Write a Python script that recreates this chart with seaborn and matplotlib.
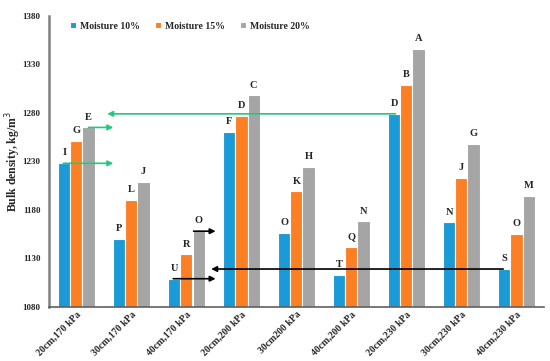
import pandas as pd
import numpy as np
import matplotlib
matplotlib.use("Agg")
import matplotlib.pyplot as plt
import seaborn as sns

# Treatments and values
treatments = ["20cm,170 kPa", "30cm,170 kPa", "40cm,170 kPa",
              "20cm,200 kPa", "30cm200 kPa", "40cm,200 kPa",
              "20cm,230 kPa", "30cm,230 kPa", "40cm,230 kPa"]
moisture_10 = [1228, 1150, 1109, 1260, 1156, 1113, 1279, 1167, 1119]
moisture_15 = [1251, 1190, 1134, 1277, 1199, 1142, 1309, 1213, 1155]
moisture_20 = [1265, 1209, 1158, 1298, 1224, 1168, 1346, 1248, 1194]
letters_10 = ["I", "P", "U", "F", "O", "T", "D", "N", "S"]
letters_15 = ["G", "L", "R", "D", "K", "Q", "B", "J", "O"]
letters_20 = ["E", "J", "O", "C", "H", "N", "A", "G", "M"]
series = ["Moisture 10%", "Moisture 15%", "Moisture 20%"]

df = pd.DataFrame({
    "treatment": treatments * 3,
    "moisture": np.repeat(series, len(treatments)),
    "density": moisture_10 + moisture_15 + moisture_20,
    "letter": letters_10 + letters_15 + letters_20,
})

sns.set_style("white")
plt.rcParams['font.family'] = ['Liberation Serif', 'DejaVu Serif']

colors = ["#1a9ad7", "#fd7f24", "#a5a5a5"]
fig = plt.figure(figsize=(5.5, 3.61), dpi=100)
ax = fig.add_axes([0.089, 0.15, 0.9, 0.806])

sns.barplot(data=df, x="treatment", y="density", hue="moisture",
            palette=colors, saturation=1, width=0.66, edgecolor="white",
            linewidth=0.8, ax=ax, errorbar=None)

ax.set_ylim(1080, 1380)
ax.set_xlim(-0.5, 8.5)
ax.set_yticks(np.arange(1080, 1381, 50))
ax.set_xlabel("")
ax.set_ylabel("Bulk density, kg/m$^3$", fontsize=8.5, fontweight="bold")
ax.yaxis.set_label_coords(-0.053, 0.5)
ax.tick_params(axis="y", labelsize=6.5, length=0, pad=6)
ax.tick_params(axis="x", labelsize=7, length=0, pad=2)
for lab in ax.get_yticklabels():
    lab.set_fontweight("bold")
ax.set_xticks(range(len(treatments)))
ax.set_xticklabels(treatments, rotation=45, ha="right", rotation_mode="anchor",
                   fontweight="bold")

for side in ["top", "right"]:
    ax.spines[side].set_visible(False)
ax.spines["left"].set_color("#808080")
ax.spines["left"].set_linewidth(1.8)
ax.spines["bottom"].set_color("#606060")
ax.spines["bottom"].set_linewidth(1.2)

# letters above bars
step = 0.66 / 3
for j, (vals, lets) in enumerate([(moisture_10, letters_10),
                                  (moisture_15, letters_15),
                                  (moisture_20, letters_20)]):
    for i, (v, l) in enumerate(zip(vals, lets)):
        ax.text(i + (j - 1) * step, v + 6, l, ha="center", va="bottom",
                fontsize=7.5, fontweight="bold")

green = "#22c97e"
def arrow(x0, x1, y, color):
    ax.annotate("", xy=(x1, y), xytext=(x0, y),
                arrowprops=dict(arrowstyle="-|>", color=color, lw=1.2,
                                mutation_scale=8, shrinkA=0, shrinkB=0))

arrow(-0.24, 0.67, moisture_10[0], green)
arrow(0.22, 0.67, moisture_20[0], green)
arrow(5.8, 0.56, moisture_10[6], green)
arrow(2.13, 2.53, moisture_20[2], "black")
arrow(1.76, 2.53, moisture_10[2], "black")
arrow(7.76, 2.45, moisture_10[8], "black")

leg = ax.legend(ncol=3, loc="upper left", bbox_to_anchor=(0.025, 1.01),
                frameon=False, fontsize=7, handlelength=0.6,
                handleheight=0.6, columnspacing=1.6, handletextpad=0.4)
for t in leg.get_texts():
    t.set_fontweight("bold")

fig.savefig("out.png", dpi=100)
